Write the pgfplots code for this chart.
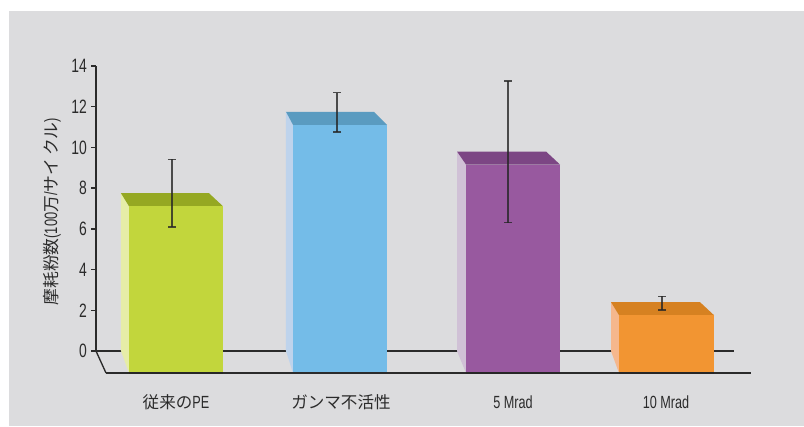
\documentclass[border=0pt]{standalone}
\usepackage{pgfplots}
\pgfplotsset{compat=1.18}
\usepackage{fontspec}
\setmainfont{Liberation Sans}[FakeStretch=0.72]
\newfontfamily\cjk{Noto Sans CJK JP}[Scale=0.94]
\definecolor{bg}{HTML}{DCDCDE}
\definecolor{axcol}{HTML}{2B2B2B}
\definecolor{gF}{HTML}{C2D63C}\definecolor{gT}{HTML}{95A822}\definecolor{gS}{HTML}{E6EDA8}
\definecolor{bF}{HTML}{74BCE8}\definecolor{bT}{HTML}{5A9BC0}\definecolor{bS}{HTML}{BED3EC}
\definecolor{pF}{HTML}{98599F}\definecolor{pT}{HTML}{7C4684}\definecolor{pS}{HTML}{D0C1D6}
\definecolor{oF}{HTML}{F29532}\definecolor{oT}{HTML}{D68121}\definecolor{oS}{HTML}{F5B78D}
\begin{document}
\begin{tikzpicture}
\fill[white] (-72pt,-56.25pt) rectangle (531pt,263.25pt);
\fill[bg] (-65.25pt,-56.25pt) rectangle (531pt,255pt);
\begin{axis}[
  at={(0pt,0pt)}, anchor=south west,
  scale only axis, width=478.5pt, height=213.75pt,
  xmin=96, xmax=734, ymin=0, ymax=14,
  clip=false, enlargelimits=false,
  axis lines=left,
  axis line style={-, draw=axcol, line width=1pt},
  tick align=outside,
  major tick length=3.4pt,
  ytick={0,2,4,6,8,10,12,14},
  ytick style={draw=axcol, line width=1pt},
  yticklabel style={font=\fontsize{14.5}{16}\selectfont, text=axcol},
  /pgf/number format/assume math mode=true,
  xtick={176,341,513,666},
  xticklabels={{\cjk 従来の}PE, {\cjk ガンマ不活性}, 5 Mrad, 10 Mrad},
  xtick style={draw=none},
  xticklabel style={font=\fontsize{13.2}{14}\selectfont, text=axcol, anchor=base, yshift=-39.5pt},
  every axis y label/.style={at={(axis cs:52,6.83)}, rotate=90, anchor=center, font=\fontsize{13.4}{15}\selectfont, text=axcol},
  ylabel={{\cjk 摩耗粉数}(100{\cjk 万}/{\cjk サイ\,クル})},
]
% floor slant
\addplot[draw=axcol, line width=1pt] coordinates {(96,0) (106,-1.08)};
% green bar
\addplot[fill=gS, draw=none] coordinates {(121,7.75) (129,7.11) (129,-1.08) (121,0)} -- cycle;
\addplot[fill=gT, draw=none] coordinates {(121,7.75) (209,7.75) (223,7.11) (129,7.11)} -- cycle;
\addplot[fill=gF, draw=none] coordinates {(129,-1.08) (223,-1.08) (223,7.11) (129,7.11)} -- cycle;
% blue bar
\addplot[fill=bS, draw=none] coordinates {(286,11.75) (293,11.11) (293,-1.08) (286,0)} -- cycle;
\addplot[fill=bT, draw=none] coordinates {(286,11.75) (374,11.75) (387,11.11) (293,11.11)} -- cycle;
\addplot[fill=bF, draw=none] coordinates {(293,-1.08) (387,-1.08) (387,11.11) (293,11.11)} -- cycle;
% purple bar
\addplot[fill=pS, draw=none] coordinates {(457,9.8) (466,9.16) (466,-1.08) (457,0)} -- cycle;
\addplot[fill=pT, draw=none] coordinates {(457,9.8) (546,9.8) (560,9.16) (466,9.16)} -- cycle;
\addplot[fill=pF, draw=none] coordinates {(466,-1.08) (560,-1.08) (560,9.16) (466,9.16)} -- cycle;
% orange bar
\addplot[fill=oS, draw=none] coordinates {(611,2.4) (619,1.76) (619,-1.08) (611,0)} -- cycle;
\addplot[fill=oT, draw=none] coordinates {(611,2.4) (700,2.4) (714,1.76) (619,1.76)} -- cycle;
\addplot[fill=oF, draw=none] coordinates {(619,-1.08) (714,-1.08) (714,1.76) (619,1.76)} -- cycle;
% floor line
\addplot[draw=axcol, line width=1pt] coordinates {(106,-1.08) (751,-1.08)};
\addplot[draw=black!85, line width=1.6pt] coordinates {(129,-1.08) (223,-1.08)};
\addplot[draw=black!85, line width=1.6pt] coordinates {(466,-1.08) (560,-1.08)};
\addplot[draw=black!85, line width=1.6pt] coordinates {(619,-1.08) (714,-1.08)};
% error bars
\addplot[draw=none, mark=none,
  error bars/.cd, y dir=both, y explicit,
  error bar style={line width=0.9pt, draw=black!85, opacity=0.8},
  error mark options={line width=0.9pt, mark size=3pt, rotate=90, draw=black!85, opacity=0.8}]
  coordinates {
  (172,7.75) +- (0,1.66)
  (337,11.72) +- (0,0.965)
  (508,9.78) +- (0,3.48)
  (662,2.35) +- (0,0.34)
  };
\end{axis}
\end{tikzpicture}
\end{document}
